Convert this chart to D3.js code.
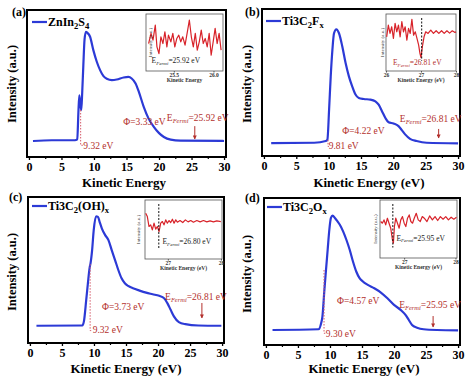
<!DOCTYPE html>
<html><head><meta charset="utf-8">
<script src="https://cdn.jsdelivr.net/npm/d3@7"></script>
<style>body{margin:0;background:#fff}svg{display:block}svg text{font-family:"Liberation Serif","DejaVu Serif",serif}</style>
</head><body><svg id="c" width="474" height="379"></svg>
<script>
// ---------------- DATA ----------------
const xTickValues = [0, 5, 10, 15, 20, 25, 30];
const xMinorTicks = [2.5, 7.5, 12.5, 17.5, 22.5, 27.5];
const panelTags = ["(a)", "(b)", "(c)", "(d)"];
const xTitles = ["Kinetic Energy", "Kinetic Energy (eV)", "Kinetic Energy (eV)", "Kinetic Energy (eV)"];
const yTitle = "Intensity (a.u.)";
const insetXTitles = ["Kinetic Energy", "Kinetic Energy (eV)", "Kinetic Energy (eV)", "Kinetic Energy (eV)"];
const legendNames = [
  [["ZnIn", 0], ["2", 1], ["S", 0], ["4", 1]],
  [["Ti3C", 0], ["2", 1], ["F", 0], ["x", 1]],
  [["Ti3C", 0], ["2", 1], ["(OH)", 0], ["x", 1]],
  [["Ti3C", 0], ["2", 1], ["O", 0], ["x", 1]]
];
const workFunctionLabels = ["Φ=3.33 eV", "Φ=4.22 eV", "Φ=3.73 eV", "Φ=4.57 eV"];
const onsetLabels = ["9.32 eV", "9.81 eV", "9.32 eV", "9.30 eV"];
const fermiMainValues = ["25.92 eV", "26.81 eV", "26.81 eV", "25.95 eV"];
const fermiInsetValues = ["25.92 eV", "26.81 eV", "26.80 eV", "25.95 eV"];
const insetTicks = [[25.5, 26.0], [26, 27, 28], [27, 28], [27, 28]];
const insetTickLabels = [["25.5", "26.0"], ["26", "27", "28"], ["27", "28"], ["27", "28"]];
const insetDomains = [[25.15, 26.12], [26.0, 28.0], [26.57, 28.02], [26.53, 28.03]];
const insetFermiMarks = [null, 27.02, 26.83, 26.78];

// ZnIn2S4
const energyA = [0.62, 3.5, 7.07, 7.43, 7.6, 7.74, 7.9, 8.05, 8.2, 8.36, 8.55, 8.77, 8.98, 9.4, 9.9, 10.43, 10.94, 11.46, 11.97, 12.75, 13.5, 14.55, 15.3, 15.8, 16.4, 16.9, 17.65, 18.4, 19.2, 19.97, 20.75, 21.8, 23.3, 30.0];
const intensityA = [10.9, 11.4, 11.4, 12.0, 30, 42.0, 36, 31.8, 45, 62, 80, 85.2, 84.5, 81.8, 72.7, 64.8, 59.1, 55.0, 53.2, 52.3, 52.7, 54.1, 54.5, 53.4, 50.0, 44.3, 34.1, 26.1, 20.5, 16.4, 13.6, 11.8, 11.1, 10.9];
// Ti3C2Fx
const energyB = [1.12, 7.77, 9.56, 9.81, 10.07, 10.32, 10.58, 10.83, 11.19, 11.6, 12.11, 12.62, 13.13, 13.64, 14.15, 14.66, 15.43, 16.45, 17.22, 17.73, 18.24, 18.75, 19.26, 20.03, 20.8, 21.31, 21.82, 22.58, 23.6, 25.14, 30.0];
const intensityB = [8.8, 9.0, 10.2, 11.3, 31.6, 54.2, 72.2, 83.5, 86.2, 83.5, 74.5, 63.2, 54.2, 47.4, 41.8, 39.5, 38.8, 38.4, 37.2, 34.9, 30.5, 26.0, 23.0, 22.1, 20.3, 17.6, 14.7, 11.7, 10.2, 9.0, 8.6];
// Ti3C2(OH)x
const energyC = [1.02, 8.18, 8.43, 8.79, 9.05, 9.35, 9.46, 9.71, 9.96, 10.32, 10.63, 10.88, 11.24, 11.75, 12.26, 12.77, 13.29, 13.8, 14.31, 14.82, 15.33, 16.09, 17.12, 18.14, 19.16, 20.18, 20.95, 21.46, 21.97, 22.48, 23.25, 24.27, 26.31, 29.89];
const intensityC = [11.8, 12.0, 14.8, 29.5, 40.9, 52.3, 54.5, 63.6, 77.3, 86.8, 86.4, 83.0, 78.4, 73.9, 70.5, 63.6, 56.8, 50.0, 44.3, 40.9, 39.1, 37.5, 35.9, 34.5, 33.4, 32.3, 30.7, 27.3, 22.7, 18.2, 14.3, 12.9, 12.0, 11.8];
// Ti3C2Ox
const energyD = [1.03, 8.21, 8.62, 8.82, 9.13, 9.38, 9.64, 9.9, 10.15, 10.41, 10.77, 11.18, 11.54, 12.05, 12.56, 13.08, 13.59, 14.1, 14.62, 15.13, 15.9, 16.92, 17.95, 18.97, 20.0, 21.03, 21.79, 22.31, 22.82, 23.59, 24.62, 26.67, 30.0];
const intensityD = [10.2, 10.7, 14.8, 19.3, 37.5, 51.1, 64.8, 78.4, 86.4, 88.0, 86.4, 84.1, 81.8, 77.3, 71.6, 64.8, 56.8, 50.0, 45.5, 43.2, 40.9, 38.6, 35.7, 31.8, 27.3, 23.9, 20.5, 17.0, 13.6, 11.8, 10.7, 10.2, 10.0];

// inset spectra (Fermi edge region)
const insetEnergyA = [25.183, 25.213, 25.238, 25.267, 25.288, 25.313, 25.338, 25.363, 25.388, 25.413, 25.433, 25.463, 25.488, 25.513, 25.538, 25.563, 25.588, 25.613, 25.642, 25.671, 25.696, 25.721, 25.746, 25.771, 25.796, 25.821, 25.846, 25.871, 25.896, 25.921, 25.946, 25.971, 25.996, 26.021, 26.046, 26.071, 26.096];
const insetIntensityA = [48.2, 65.9, 54.1, 80.6, 42.4, 30.6, 60.0, 48.2, 68.8, 42.4, 62.9, 51.2, 65.9, 42.4, 57.1, 62.9, 51.2, 60.0, 45.3, 68.8, 89.4, 60.0, 42.4, 65.9, 36.5, 51.2, 71.8, 48.2, 57.1, 42.4, 65.9, 27.6, 51.2, 74.7, 48.2, 65.9, 36.5];
const insetEnergyB = [26.019, 26.067, 26.115, 26.163, 26.212, 26.26, 26.308, 26.356, 26.404, 26.452, 26.5, 26.548, 26.596, 26.644, 26.692, 26.74, 26.788, 26.837, 26.885, 26.933, 26.971, 27.0, 27.038, 27.087, 27.135, 27.202, 27.279, 27.356, 27.433, 27.51, 27.587, 27.663, 27.74, 27.817, 27.894, 27.971, 28.0];
const insetIntensityB = [60.0, 80.6, 65.9, 77.6, 57.1, 83.5, 68.8, 80.6, 60.0, 86.5, 68.8, 77.6, 54.1, 74.7, 65.9, 90.6, 62.9, 68.8, 57.1, 45.3, 30.6, 23.5, 42.4, 60.0, 68.8, 65.9, 71.8, 65.9, 70.6, 65.9, 70.6, 65.9, 70.6, 66.5, 70.6, 67.6, 68.8];
const insetEnergyC = [26.583, 26.614, 26.645, 26.677, 26.708, 26.74, 26.771, 26.803, 26.834, 26.866, 26.897, 26.928, 26.96, 26.991, 27.023, 27.054, 27.086, 27.117, 27.149, 27.18, 27.23, 27.281, 27.331, 27.381, 27.432, 27.482, 27.545, 27.608, 27.671, 27.734, 27.796, 27.859, 27.922, 27.998];
const insetIntensityC = [77.5, 71.9, 55.1, 57.9, 49.4, 60.7, 50.6, 55.1, 46.6, 60.7, 63.5, 57.9, 66.3, 60.7, 65.2, 61.8, 67.4, 60.7, 66.3, 62.4, 65.2, 61.8, 66.3, 62.9, 65.2, 62.4, 65.2, 62.9, 65.2, 62.9, 64.6, 62.9, 64.6, 63.5];
const insetEnergyD = [26.543, 26.576, 26.608, 26.641, 26.674, 26.706, 26.739, 26.772, 26.791, 26.811, 26.837, 26.87, 26.903, 26.935, 26.968, 27.001, 27.033, 27.066, 27.099, 27.131, 27.164, 27.197, 27.236, 27.275, 27.314, 27.354, 27.393, 27.445, 27.497, 27.55, 27.602, 27.654, 27.706, 27.759, 27.811, 27.863, 27.916, 27.968, 28.02];
const insetIntensityD = [62.9, 60.0, 65.7, 57.1, 68.6, 60.0, 51.4, 31.4, 25.7, 54.3, 68.6, 60.0, 51.4, 65.7, 71.4, 60.0, 54.3, 68.6, 74.3, 62.9, 60.0, 68.6, 77.1, 65.7, 62.9, 71.4, 68.6, 62.9, 72.6, 65.7, 71.4, 64.6, 71.4, 66.9, 71.4, 65.7, 70.3, 66.9, 70.3];

// ---------------- LAYOUT ----------------
const BLUE = "#2c3ad6", RED = "#b3302c", DARK = "#222";
const panels = [
  { frame: {l: 27, r: 226, t: 10, b: 157}, tag: [12, 16], leg: [32, 22], xt: [124, 187], yt: [12, 84],
    inset: {l: 146, r: 223, t: 14, b: 71, ylab: 150, txt: [25.22, 14], tcol: DARK},
    energy: energyA, intensity: intensityA, ie: insetEnergyA, ii: insetIntensityA,
    onset: {x: 7.95, y0: 32, y1: 8, hx: 8.4, lx: 8.35, ly: 5.4},
    phi: [14.5, 21.6], ef: [21.2, 24.8], arrow: [25.5, 21, 12.2] },
  { frame: {l: 262, r: 460, t: 9, b: 156}, tag: [245, 16], leg: [266, 21], xt: [369, 187], yt: [247, 84],
    inset: {l: 386, r: 456, t: 14, b: 71, ylab: 382, txt: [26.2, 10], tcol: RED},
    energy: energyB, intensity: intensityB, ie: insetEnergyB, ii: insetIntensityB,
    onset: {x: 9.9, y0: 11, y1: 6.5, hx: 10.1, lx: 10.0, ly: 4.8},
    phi: [12.1, 15], ef: [21.0, 23.1], arrow: [27.0, 18.4, 12.2] },
  { frame: {l: 28, r: 224, t: 197, b: 343}, tag: [9, 201], leg: [32, 206], xt: [126, 373], yt: [12, 272],
    inset: {l: 145, r: 222, t: 200, b: 259, ylab: 138, txt: [26.9, 25], tcol: DARK},
    energy: energyC, intensity: intensityC, ie: insetEnergyC, ii: insetIntensityC,
    onset: {x: 9.4, y0: 54, y1: 8.5, hx: 9.8, lx: 9.8, ly: 6.8},
    phi: [11.25, 22.6], ef: [21.1, 29.5], arrow: [26.85, 27.4, 17.1] },
  { frame: {l: 264, r: 460, t: 198, b: 345}, tag: [245, 202], leg: [267, 207], xt: [364, 373], yt: [247, 274],
    inset: {l: 380, r: 457, t: 200, b: 258, ylab: 375, txt: [26.85, 30], tcol: DARK},
    energy: energyD, intensity: intensityD, ie: insetEnergyD, ii: insetIntensityD,
    onset: {x: 9.07, y0: 51, y1: 8, hx: 9.4, lx: 9.35, ly: 5.4},
    phi: [11.1, 27.9], ef: [20.8, 25.2], arrow: [26.1, 19.7, 12.2] }
];

const svg = d3.select("#c");
svg.append("defs").append("marker").attr("id", "ah").attr("viewBox", "0 0 10 10")
  .attr("refX", 9).attr("refY", 5).attr("markerWidth", 4).attr("markerHeight", 4).attr("orient", "auto")
  .append("path").attr("d", "M0,0 L10,5 L0,10 z").attr("fill", RED);

function subText(sel, parts, size) {
  let acc = 0;
  parts.forEach(([t, s]) => {
    const want = s ? size * 0.28 : 0;
    const ts = sel.append("tspan").text(t).attr("dy", want - acc);
    if (s) ts.attr("font-size", size * 0.72);
    acc = want;
  });
}

panels.forEach((p, i) => {
  const f = p.frame;
  const g = svg.append("g");
  const x = d3.scaleLinear().domain([-0.3, 30.3]).range([f.l, f.r]);
  const y = d3.scaleLinear().domain([0, 100]).range([f.b, f.t]);

  const ax = g.append("g").attr("transform", `translate(0,${f.b})`)
    .call(d3.axisBottom(x).tickValues(xTickValues).tickSize(3).tickPadding(2).tickFormat(d3.format("d")));
  ax.select(".domain").remove();
  ax.selectAll("line").attr("stroke", "#000").attr("stroke-width", 1.3);
  ax.selectAll("text").attr("font-weight", "bold").attr("font-size", 12).attr("fill", "#000");
  const mx = g.append("g").attr("transform", `translate(0,${f.b})`)
    .call(d3.axisBottom(x).tickValues(xMinorTicks).tickSize(2).tickFormat(""));
  mx.select(".domain").remove();
  mx.selectAll("line").attr("stroke", "#000").attr("stroke-width", 1.2);

  g.append("rect").attr("x", f.l).attr("y", f.t).attr("width", f.r - f.l).attr("height", f.b - f.t)
    .attr("fill", "none").attr("stroke", "#000").attr("stroke-width", 2);

  g.append("text").attr("x", p.xt[0]).attr("y", p.xt[1]).attr("text-anchor", "middle")
    .attr("font-weight", "bold").attr("font-size", 13).text(xTitles[i]);
  g.append("text").attr("transform", `translate(${p.yt[0]},${p.yt[1]}) rotate(-90)`).attr("text-anchor", "middle")
    .attr("dominant-baseline", "central").attr("font-weight", "bold").attr("font-size", 12.5).text(yTitle);
  g.append("text").attr("x", p.tag[0]).attr("y", p.tag[1])
    .attr("font-weight", "bold").attr("font-size", 12).text(panelTags[i]);

  g.append("line").attr("x1", p.leg[0]).attr("x2", p.leg[0] + 15).attr("y1", p.leg[1]).attr("y2", p.leg[1])
    .attr("stroke", BLUE).attr("stroke-width", 2.2);
  const lt = g.append("text").attr("x", p.leg[0] + 16).attr("y", p.leg[1] + 4)
    .attr("font-weight", "bold").attr("font-size", 12);
  subText(lt, legendNames[i], 12);

  const pts = p.energy.map((e, k) => [e, p.intensity[k]]);
  g.append("path").datum(pts).attr("fill", "none").attr("stroke", BLUE).attr("stroke-width", 2.2)
    .attr("stroke-linejoin", "round")
    .attr("d", d3.line().x(d => x(d[0])).y(d => y(d[1])).curve(d3.curveMonotoneX));

  const o = p.onset;
  g.append("path").attr("d", `M${x(o.x)},${y(o.y0)} L${x(o.x)},${y(o.y1)} L${x(o.hx)},${y(o.y1)}`)
    .attr("fill", "none").attr("stroke", "#d45a6a").attr("stroke-width", 1).attr("stroke-dasharray", "1.5,1.5");
  g.append("text").attr("x", x(o.lx)).attr("y", y(o.ly)).attr("font-size", 9.5)
    .attr("fill", RED).text(onsetLabels[i]);

  g.append("text").attr("x", x(p.phi[0])).attr("y", y(p.phi[1])).attr("font-size", 9.5)
    .attr("fill", RED).text(workFunctionLabels[i]);
  const ef = g.append("text").attr("x", x(p.ef[0])).attr("y", y(p.ef[1])).attr("font-size", 9.5).attr("fill", RED);
  ef.append("tspan").text("E");
  ef.append("tspan").attr("font-size", 6.5).attr("dy", 2).attr("font-style", "italic").text("Fermi");
  ef.append("tspan").attr("dy", -2).text("=" + fermiMainValues[i]);
  g.append("line").attr("x1", x(p.arrow[0])).attr("x2", x(p.arrow[0]))
    .attr("y1", y(p.arrow[1])).attr("y2", y(p.arrow[2]))
    .attr("stroke", RED).attr("stroke-width", 1).attr("marker-end", "url(#ah)");

  const s = p.inset;
  const ix = d3.scaleLinear().domain(insetDomains[i]).range([s.l, s.r]);
  const iy = d3.scaleLinear().domain([0, 100]).range([s.b, s.t]);
  const ig = svg.append("g");
  ig.append("rect").attr("x", s.l).attr("y", s.t).attr("width", s.r - s.l).attr("height", s.b - s.t)
    .attr("fill", "#fff").attr("stroke", "#555").attr("stroke-width", 0.8);
  const ipts = p.ie.map((e, k) => [e, p.ii[k]]);
  ig.append("path").datum(ipts).attr("fill", "none").attr("stroke", "#d8232a").attr("stroke-width", 1.2)
    .attr("stroke-linejoin", "round")
    .attr("d", d3.line().x(d => ix(d[0])).y(d => iy(d[1])));
  if (insetFermiMarks[i] !== null) {
    ig.append("line").attr("x1", ix(insetFermiMarks[i])).attr("x2", ix(insetFermiMarks[i]))
      .attr("y1", s.t + 4).attr("y2", iy(18)).attr("stroke", "#111").attr("stroke-width", 1)
      .attr("stroke-dasharray", "2,1.5");
  }
  const iax = ig.append("g").attr("transform", `translate(0,${s.b})`)
    .call(d3.axisBottom(ix).tickValues(insetTicks[i]).tickSize(1.5).tickPadding(1)
      .tickFormat((d, k) => insetTickLabels[i][k]));
  iax.select(".domain").remove();
  iax.selectAll("line").attr("stroke", "#555");
  iax.selectAll("text").attr("font-size", 5.5).attr("font-weight", "bold").attr("fill", "#333");
  ig.append("text").attr("x", (s.l + s.r) / 2).attr("y", s.b + 11).attr("text-anchor", "middle")
    .attr("font-size", 5.5).attr("font-weight", "bold").attr("fill", "#333").text(insetXTitles[i]);
  ig.append("text").attr("transform", `translate(${s.ylab},${(s.t + s.b) / 2}) rotate(-90)`)
    .attr("text-anchor", "middle").attr("dominant-baseline", "central")
    .attr("font-size", 5).attr("fill", "#333").text(yTitle);
  const it = ig.append("text").attr("x", ix(s.txt[0])).attr("y", iy(s.txt[1]))
    .attr("font-size", 7.5).attr("fill", s.tcol);
  it.append("tspan").text("E");
  it.append("tspan").attr("font-size", 5).attr("dy", 1.5).attr("font-style", "italic").text("Fermi");
  it.append("tspan").attr("dy", -1.5).text("=" + fermiInsetValues[i]);
});
</script></body></html>
